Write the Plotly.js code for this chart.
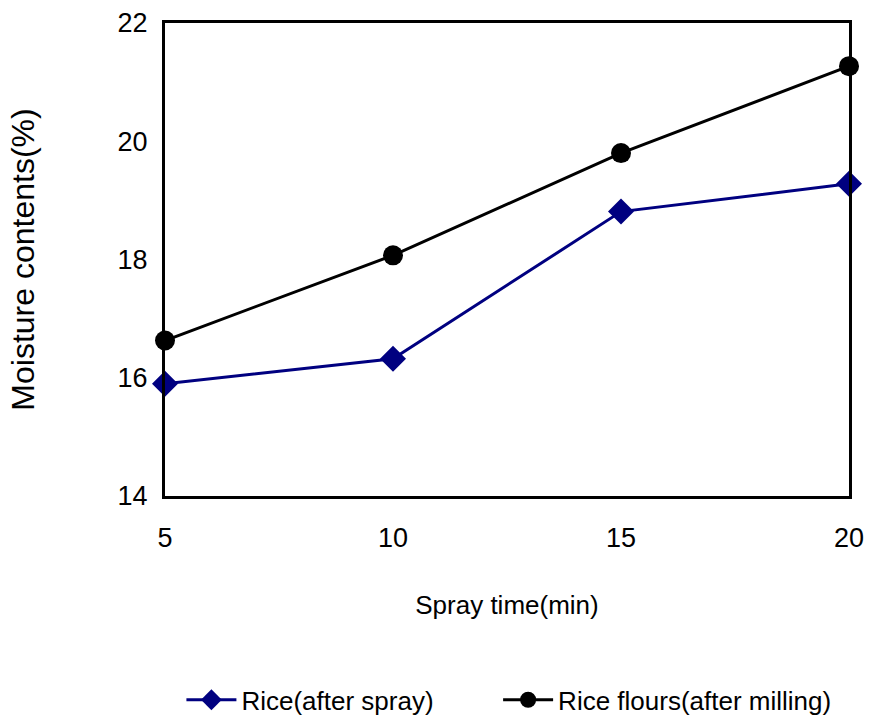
<!DOCTYPE html>
<html><head><meta charset="utf-8">
<script src="https://cdn.plot.ly/plotly-3.0.1.min.js"></script>
<style>html,body{margin:0;padding:0;background:#fff}</style>
</head><body>
<div id="chart" style="width:869px;height:720px"></div>
<script>
const sprayTime = [5, 10, 15, 20];
const riceAfterSpray = [15.9, 16.32, 18.81, 19.28];
const riceFloursAfterMilling = [16.63, 18.07, 19.8, 21.27];
const seriesNames = ["Rice(after spray)", "Rice flours(after milling)"];

const fontFam = "'Liberation Sans', Arial, sans-serif";

const traces = [
  {x: sprayTime, y: riceAfterSpray, name: seriesNames[0], type: 'scatter', mode: 'lines+markers',
   line: {color: '#000080', width: 3}, marker: {symbol: 'diamond', size: 20, color: '#000080'},
   cliponaxis: false, legend: 'legend'},
  {x: sprayTime, y: riceFloursAfterMilling, name: seriesNames[1], type: 'scatter', mode: 'lines+markers',
   line: {color: '#000000', width: 3}, marker: {symbol: 'circle', size: 20, color: '#000000'},
   cliponaxis: false, legend: 'legend2'}
];

const legBase = {orientation: 'h', y: -0.431, yanchor: 'middle', xanchor: 'left',
                 font: {size: 26}, itemwidth: 50, bgcolor: 'rgba(0,0,0,0)'};

const layout = {
  width: 869, height: 720,
  margin: {l: 165, r: 20, t: 23, b: 224, autoexpand: false},
  paper_bgcolor: '#fff', plot_bgcolor: '#fff',
  font: {family: fontFam, size: 26, color: '#000'},
  showlegend: true,
  legend: Object.assign({}, legBase, {x: 0.024}),
  legend2: Object.assign({}, legBase, {x: 0.487}),
  xaxis: {range: [5, 20], tickvals: sprayTime, ticktext: sprayTime.map(String),
          showgrid: false, zeroline: false, showline: true, linecolor: '#000', linewidth: 3, mirror: true,
          ticks: '', ticklabelstandoff: 16, tickfont: {size: 27},
          title: {text: 'Spray time(min)', standoff: 44, font: {size: 26}}},
  yaxis: {range: [14, 22], tickvals: [14, 16, 18, 20, 22],
          showgrid: false, zeroline: false, showline: true, linecolor: '#000', linewidth: 3, mirror: true,
          ticks: '', ticklabelstandoff: 9, tickfont: {size: 27},
          title: {text: 'Moisture contents(%)', standoff: 74, font: {size: 32}}}
};

Plotly.newPlot('chart', traces, layout, {displayModeBar: false, staticPlot: true});
</script>
</body></html>
